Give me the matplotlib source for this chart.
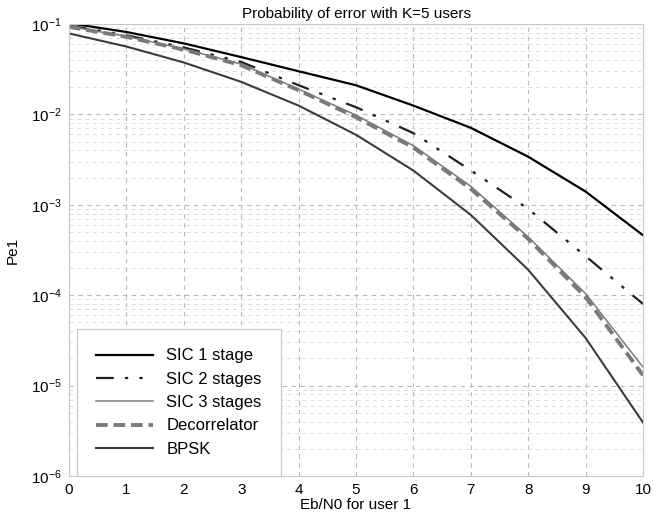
import numpy as np
import matplotlib
matplotlib.use('Agg')
import matplotlib.pyplot as plt

plt.rcParams['font.family'] = ['Liberation Sans', 'DejaVu Sans']
plt.rcParams['mathtext.fontset'] = 'custom'
plt.rcParams['mathtext.rm'] = 'Liberation Sans'
plt.rcParams['mathtext.it'] = 'Liberation Sans'

ebn0 = [0, 1, 2, 3, 4, 5, 6, 7, 8, 9, 10]
sic1 = [0.102, 0.0815, 0.061, 0.043, 0.030, 0.021, 0.0125, 0.0071, 0.0034, 0.0014, 0.00046]
sic2 = [0.096, 0.075, 0.055, 0.038, 0.021, 0.012, 0.0062, 0.0024, 0.0009, 0.00027, 0.00008]
sic3 = [0.094, 0.073, 0.053, 0.036, 0.019, 0.0098, 0.0045, 0.0016, 0.00044, 0.000104, 0.000016]
decor = [0.093, 0.072, 0.052, 0.035, 0.0185, 0.0093, 0.0043, 0.0015, 0.00042, 0.000095, 0.000013]
bpsk = [0.0786, 0.0563, 0.0375, 0.0229, 0.0125, 0.00595, 0.00239, 0.000773, 0.000191, 0.0000336, 0.0000039]

fig = plt.figure(figsize=(6.53, 5.19), dpi=100)
ax = fig.add_axes([0.1057, 0.0829, 0.879, 0.8709])

ax.semilogy(ebn0, sic1, color='black', lw=1.6, label='SIC 1 stage')
ax.semilogy(ebn0, sic2, color='#202020', lw=1.6, ls=(0, (8, 5, 1.5, 5, 1.5, 5)), label='SIC 2 stages')
ax.semilogy(ebn0, sic3, color='#7a7a7a', lw=1.1, label='SIC 3 stages')
ax.semilogy(ebn0, decor, color='#7a7a7a', lw=2.8, ls=(0, (3, 1.5)), label='Decorrelator')
ax.semilogy(ebn0, bpsk, color='#3c3c3c', lw=1.5, label='BPSK')

ax.set_xlim(0, 10)
ax.set_ylim(1e-6, 1e-1)
ax.set_xticks(range(0, 11))
ax.grid(True, which='major', ls=(0, (4, 4)), color='#b8b8b8', lw=0.8)
ax.grid(True, which='minor', axis='y', ls=(0, (4, 4)), color='#dcdcdc', lw=0.7)
ax.tick_params(which='both', length=0, labelsize=11, pad=5)
for s in ax.spines.values():
    s.set_color('#c8c8c8')

ax.set_title('Probability of error with K=5 users', fontsize=11, pad=4)
ax.set_xlabel('Eb/N0 for user 1', fontsize=11, labelpad=1)
ax.set_ylabel('Pe1', fontsize=11, labelpad=8)

leg = ax.legend(loc='lower left', fontsize=12, handlelength=3.4, fancybox=False,
                edgecolor='#c8c8c8', framealpha=1, borderaxespad=0.0,
                bbox_to_anchor=(0.014, 0.0), labelspacing=0.5, borderpad=1.15,
                handletextpad=0.8)
leg.get_frame().set_linewidth(0.8)

fig.savefig('out.png', dpi=100)
